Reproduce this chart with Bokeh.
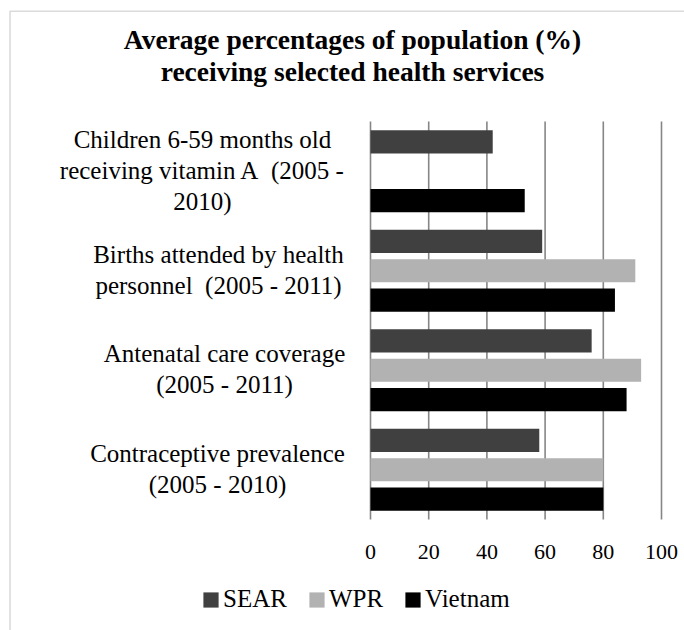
from bokeh.plotting import figure
from bokeh.models import (ColumnDataSource, Range1d, Label, Legend,
                          LegendItem, BoxAnnotation)
from bokeh.core.properties import value
from bokeh.transform import dodge
from bokeh.embed import file_html
from bokeh.resources import INLINE

# ---- data -------------------------------------------------------------
categories = [
    "Children 6-59 months old\nreceiving vitamin A\u00a0 (2005 -\n2010)",
    "Births attended by health\npersonnel\u00a0 (2005 - 2011)",
    "Antenatal care coverage\n(2005 - 2011)",
    "Contraceptive prevalence\n(2005 - 2010)",
]
series_names = ["SEAR", "WPR", "Vietnam"]
sear = [42, 59, 76, 58]
wpr = [float("nan"), 91, 93, 80]
vietnam = [53, 84, 88, 80]
x_ticks = [0, 20, 40, 60, 80, 100]
tick_labels = ["0", "20", "40", "60", "80", "100"]
title_lines = ["Average percentages of population (%)",
               "receiving selected health services"]

# ---- layout -----------------------------------------------------------
W, H = 684, 630
PL, PR, PT, PB = 370, 661, 121, 519          # bar area edges in pixels
N = len(categories)
FONT = "Liberation Serif"
GRID = "#868686"
SHIFT = 8                                    # baseline correction, px
colors = ["#404040", "#b2b2b2", "#000000"]
offsets = [0.295, 0.0, -0.295]


def sx(px):
    """canvas pixel x -> value axis units"""
    return (px - PL) / (PR - PL) * 100.0


def sy(py):
    """canvas pixel y -> category axis units"""
    return (PB - py) / (PB - PT) * N


# the frame fills the canvas so that title, labels and legend can sit
# anywhere around the bar area
p = figure(width=W, height=H,
           x_range=Range1d(sx(0), sx(W)), y_range=Range1d(sy(H), sy(0)),
           x_axis_location=None, y_axis_location=None,
           output_backend="svg", toolbar_location=None,
           min_border=0)
p.outline_line_color = None
p.background_fill_color = "white"
p.border_fill_color = "white"
p.xgrid.grid_line_color = None
p.ygrid.grid_line_color = None

# categories top to bottom
y_pos = [N - 0.5 - i for i in range(N)]
src = ColumnDataSource(dict(y=y_pos, SEAR=sear, WPR=wpr, Vietnam=vietnam))

# vertical gridlines over the bar area
p.segment(x0=x_ticks, x1=x_ticks, y0=[0] * len(x_ticks),
          y1=[N] * len(x_ticks), line_color=GRID, line_width=1.6)

renderers = []
for name, color, off in zip(series_names, colors, offsets):
    r = p.hbar(y=dodge("y", off), left=0, right=name, height=0.233,
               source=src, fill_color=color, line_color=None)
    renderers.append(r)

# value axis tick labels
p.text(x=x_ticks, y=[sy(559 - SHIFT)] * len(x_ticks), text=tick_labels,
       text_align="center", text_baseline="alphabetic",
       text_font=value(FONT), text_font_size="22px", text_color="black")

# legend swatches are drawn at 80% of the glyph box
legend = Legend(items=[LegendItem(label=n, renderers=[r])
                       for n, r in zip(series_names, renderers)],
                orientation="horizontal", location=(201, H - 613),
                glyph_width=19, glyph_height=19, label_standoff=3, spacing=20,
                padding=0, margin=0, border_line_color=None,
                background_fill_alpha=0,
                label_text_font=FONT, label_text_font_size="25px",
                label_text_color="black")
p.add_layout(legend)

# chart title, two centred lines
for text, base in zip(title_lines, [47, 79]):
    p.add_layout(Label(x=sx(352), y=sy(base - SHIFT), text=text,
                       text_align="center", text_baseline="alphabetic",
                       text_font=FONT, text_font_style="bold",
                       text_font_size="27.5px", text_color="black"))

# category names beside the bars, each line centred within its block
block_centres = [202, 218, 224, 217]
for i, (cat, cx) in enumerate(zip(categories, block_centres)):
    lines = cat.split("\n")
    centre_px = PT + (i + 0.5) * (PB - PT) / N
    for j, line in enumerate(lines):
        base = centre_px + 7 + (j - (len(lines) - 1) / 2) * 31
        p.add_layout(Label(x=sx(cx), y=sy(base - SHIFT), text=line,
                           text_align="center", text_baseline="alphabetic",
                           text_font=FONT, text_font_size="25px",
                           text_color="black"))

# chart area border
p.add_layout(BoxAnnotation(left=sx(9.5), right=sx(W + 40),
                           top=sy(10.7), bottom=sy(H + 40),
                           fill_alpha=0, line_color=GRID, line_width=1.6))

open("out.html", "w").write(file_html(p, INLINE))
